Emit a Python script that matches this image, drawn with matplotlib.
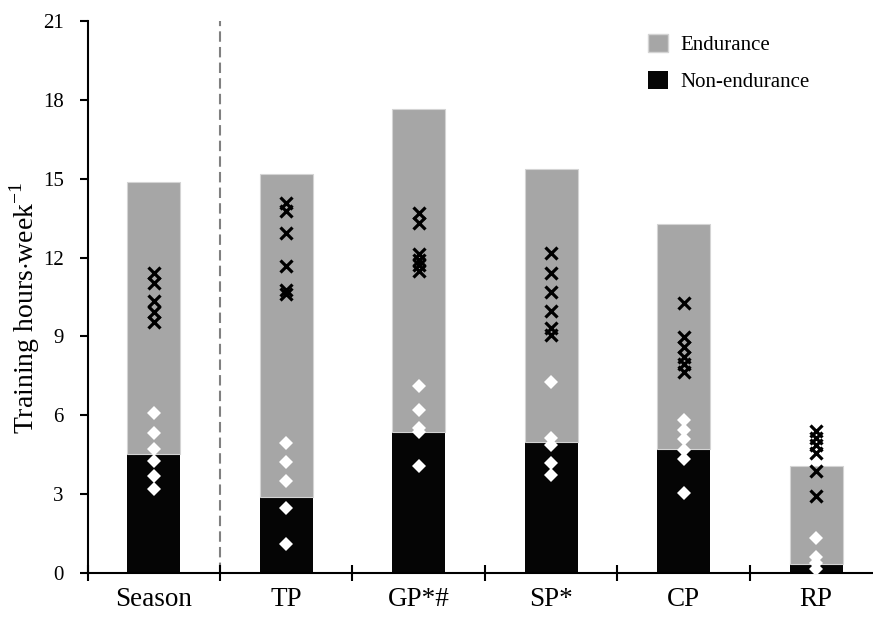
import numpy as np
import matplotlib.pyplot as plt
from matplotlib.patches import Patch

plt.rcParams['font.family'] = ['Liberation Serif', 'DejaVu Serif']
plt.rcParams['mathtext.fontset'] = 'custom'
plt.rcParams['mathtext.rm'] = 'Liberation Serif'

# Mean weekly training hours per period
periods = ['Season', 'TP', 'GP*#', 'SP*', 'CP', 'RP']
non_endurance = [4.52, 2.90, 5.38, 4.97, 4.70, 0.34]
endurance = [10.34, 12.28, 12.27, 10.40, 8.56, 3.73]

# Individual athlete values (x = endurance, diamond = non-endurance)
endurance_ind = [
    [11.42, 11.04, 10.35, 9.94, 9.56],
    [14.06, 13.78, 12.94, 11.68, 10.76, 10.61],
    [13.68, 13.30, 12.15, 11.91, 11.70, 11.50],
    [12.16, 11.40, 10.70, 9.97, 9.31, 9.05],
    [10.26, 8.97, 8.59, 8.23, 7.95, 7.66],
    [5.41, 5.12, 4.86, 4.55, 3.89, 2.93],
]
non_endurance_ind = [
    [6.07, 5.31, 4.70, 4.27, 3.69, 3.18],
    [4.96, 4.23, 3.51, 2.48, 1.10],
    [7.11, 6.20, 5.50, 5.38, 4.07],
    [7.28, 5.12, 4.87, 4.17, 3.73],
    [5.82, 5.44, 5.09, 4.68, 4.32, 3.03],
    [1.32, 0.62, 0.39, 0.14],
]

grey = '#a6a6a6'
black = '#050505'

fig = plt.figure(figsize=(8.73, 6.23), dpi=100)
ax = fig.add_axes([87.5 / 873, 50 / 623, 1 - 87.5 / 873, 552 / 623])

x = np.arange(len(periods))
ax.bar(x, non_endurance, width=0.4, color=black, zorder=2)
ax.bar(x, endurance, width=0.4, bottom=non_endurance, color=grey,
       edgecolor='#d4d4d4', linewidth=0.8, zorder=2)

for i in range(len(periods)):
    ax.plot([i] * len(endurance_ind[i]), endurance_ind[i], linestyle='none',
            marker='x', markersize=8, markeredgewidth=2.3, color='black', zorder=3)
    ax.plot([i] * len(non_endurance_ind[i]), non_endurance_ind[i], linestyle='none',
            marker='D', markersize=7, color='white', markeredgewidth=0, zorder=3)

# dashed separator between whole season and the periods
ax.plot([0.5, 0.5], [0, 21], color='#808080', lw=1.5,
        linestyle=(0, (5, 2.5)), zorder=1)

ax.set_xlim(-0.5, 5.43)
ax.set_ylim(0, 21)
ax.set_yticks(np.arange(0, 22, 3))
ax.set_xticks(np.arange(-0.5, 5.0, 1.0))
ax.set_xticklabels([])
ax.set_xticks(x, minor=True)
ax.set_xticklabels(periods, minor=True, fontsize=19.5)
ax.tick_params(axis='x', which='minor', length=0, pad=10)
ax.tick_params(axis='x', which='major', direction='inout', length=11, width=1.5)
ax.tick_params(axis='y', direction='out', length=6, width=1.5, labelsize=15, pad=11)

for s in ['top', 'right']:
    ax.spines[s].set_visible(False)
for s in ['left', 'bottom']:
    ax.spines[s].set_linewidth(1.5)

ax.set_ylabel('Training hours$\\cdot$week$^{-1}$', fontsize=20)
ax.yaxis.set_label_coords(-0.058, 0.48)

handles = [Patch(facecolor=grey, edgecolor='#d4d4d4'), Patch(facecolor=black)]
fig.legend(handles, ['Endurance', 'Non-endurance'], loc='upper left',
           bbox_to_anchor=(648 / 873, 1 - 34 / 623), frameon=False,
           fontsize=15, handlelength=0.95, handleheight=0.95,
           handletextpad=0.6, labelspacing=0.75, borderpad=0, borderaxespad=0)

plt.savefig('out.png', dpi=100)
